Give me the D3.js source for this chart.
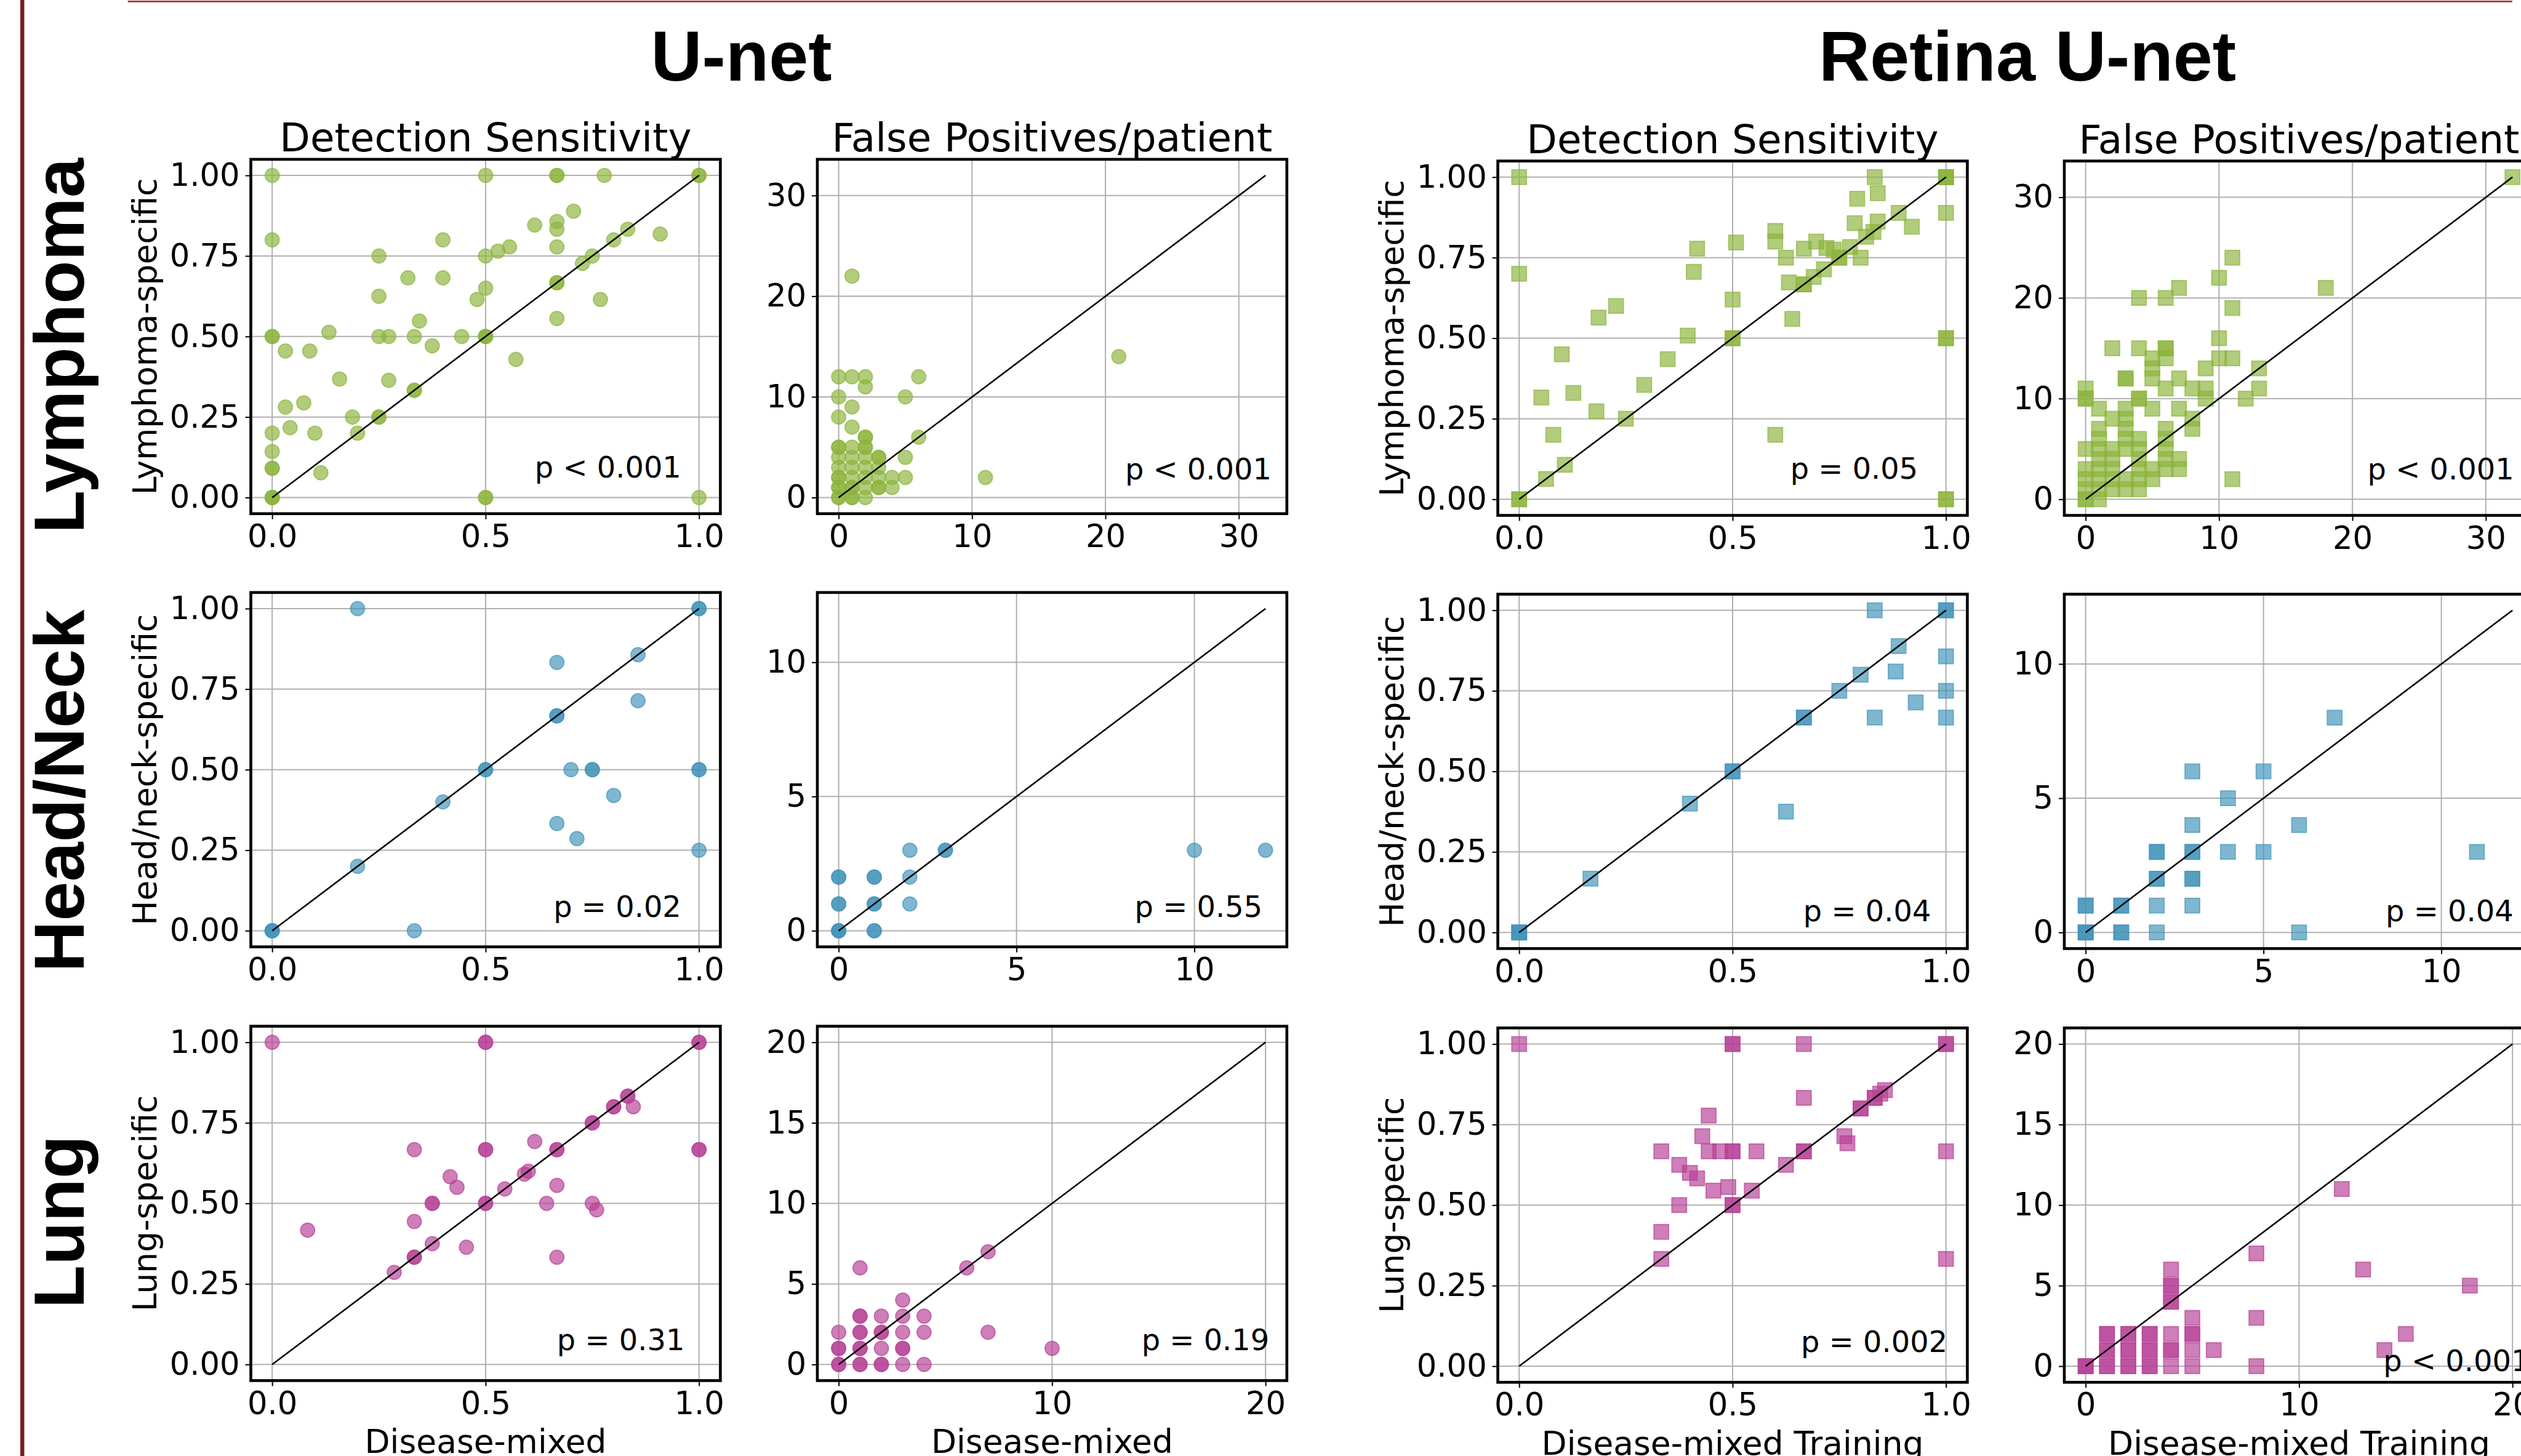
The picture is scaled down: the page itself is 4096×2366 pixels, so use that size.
<!DOCTYPE html>
<html>
<head>
<meta charset="utf-8">
<script src="https://cdn.jsdelivr.net/npm/d3@7"></script>
<style>
body { margin: 0; background: #fff; }
svg { display: block; }
</style>
</head>
<body>
<div class="container"></div>
<script>
const WIDTH = 4445;
const HEIGHT = 2568;
const PW = 828;   // panel frame width (reference px)
const PH = 625;   // panel frame height

const models = ["U-net", "Retina U-net"];
const diseases = ["Lymphoma", "Head/Neck", "Lung"];
const yLabels = ["Lymphoma-specific", "Head/neck-specific", "Lung-specific"];
const xLabels = ["Disease-mixed", "Disease-mixed Training"];
const metrics = ["Detection Sensitivity", "False Positives/patient"];
const colors = ["#8cb43c", "#4393b9", "#b74196"];

const sensTicksX = [0, 0.5, 1];
const sensTicksY = [0, 0.25, 0.5, 0.75, 1];
const fpMax = [32, 12, 20];
const fpTicksX = [[0, 10, 20, 30], [0, 5, 10], [0, 10, 20]];
const fpTicksY = [[0, 10, 20, 30], [0, 5, 10], [0, 5, 10, 15, 20]];

// p values: rows = disease, cols = U-net DS, U-net FP, Retina DS, Retina FP
const pValues = [
    ["p < 0.001", "p < 0.001", "p = 0.05", "p < 0.001"],
    ["p = 0.02", "p = 0.55", "p = 0.04", "p = 0.04"],
    ["p = 0.31", "p = 0.19", "p = 0.002", "p < 0.001"]
];

// [disease-mixed, disease-specific]
var unetLymphSens = [[0,1],[0.5,1],[0.667,1],[0.667,1],[0.778,1],[1,1],[1,1],
    [0,0.8],[0.706,0.889],[0.615,0.846],[0.667,0.857],[0.667,0.833],[0.4,0.8],[0.833,0.833],[0.909,0.818],
    [0.8,0.8],[0.556,0.778],[0.529,0.765],[0.667,0.778],[0.5,0.75],[0.25,0.75],[0.75,0.75],[0.727,0.727],
    [0.318,0.682],[0.4,0.682],[0.5,0.65],[0.25,0.625],[0.48,0.615],[0.769,0.615],[0.667,0.667],[0.667,0.667],
    [0.667,0.556],[0.345,0.548],[0,0.5],[0,0.5],[0.133,0.513],[0.25,0.5],[0.273,0.5],[0.333,0.5],[0.444,0.5],
    [0.5,0.5],[0.5,0.5],[0.5,0.5],[0.375,0.471],[0.031,0.455],[0.088,0.455],[0.571,0.429],[0.158,0.368],
    [0.273,0.364],[0.333,0.333],[0.333,0.333],[0.074,0.294],[0.031,0.281],[0.188,0.25],[0.25,0.25],[0.25,0.25],
    [0,0.2],[0.042,0.217],[0.1,0.2],[0.2,0.2],[0,0.143],[0,0.091],[0,0.091],[0.114,0.077],[0,0],[0,0],[0,0],
    [0.5,0],[0.5,0],[1,0]];
var unetLymphFP = [[1,22],[21,14],[0,12],[1,12],[2,12],[2,11],[6,12],[0,10],[5,10],[1,9],[0,8],[1,7],[2,6],[2,6],
    [6,6],[0,5],[0,5],[1,5],[2,5],[2,5],[0,4],[1,4],[2,4],[3,4],[3,4],[5,4],[0,3],[1,3],[2,3],[3,3],[0,2],[0,2],
    [1,2],[2,2],[3,2],[4,2],[5,2],[11,2],[0,1],[0,1],[1,1],[1,1],[2,1],[3,1],[3,1],[4,1],[0,0],[0,0],[1,0],[1,0],[2,0]];
var retinaLymphSens = [[0,1],[0.833,1],[1,1],[1,1],[1,1],[0.792,0.933],[0.84,0.95],[1,0.889],[0.889,0.889],
    [0.786,0.857],[0.84,0.862],[0.92,0.846],[0.6,0.833],[0.6,0.8],[0.813,0.815],[0.83,0.83],[0.508,0.797],
    [0.417,0.778],[0.667,0.778],[0.696,0.8],[0.72,0.78],[0.737,0.775],[0.775,0.783],[0.625,0.75],[0.75,0.75],
    [0.75,0.75],[0.8,0.75],[0.714,0.714],[0.69,0.69],[0.632,0.673],[0.667,0.667],[0.667,0.667],[0.409,0.706],
    [0,0.7],[0.5,0.62],[0.227,0.6],[0.186,0.564],[0.64,0.56],[0.395,0.508],[0.5,0.5],[0.5,0.5],[1,0.5],[1,0.5],
    [0.1,0.45],[0.348,0.435],[0.293,0.355],[0.052,0.316],[0.127,0.33],[0.181,0.273],[0.25,0.25],[0.08,0.2],
    [0.6,0.2],[0.107,0.107],[0.063,0.063],[0,0],[0,0],[1,0],[1,0]];
var retinaLymphFP = [[32,32],[11,24],[10,22],[7,21],[18,21],[4,20],[6,20],[11,19],[10,16],[2,15],[4,15],[6,15],
    [6,15],[5,14],[6,14],[10,14],[11,14],[5,13],[9,13],[13,13],[3,12],[3,12],[5,12],[7,12],[0,11],[6,11],[8,11],
    [9,11],[13,11],[0,10],[0,10],[4,10],[4,10],[9,10],[12,10],[1,9],[3,9],[5,9],[7,9],[2,8],[3,8],[8,8],[1,7],
    [3,7],[6,7],[8,7],[1,6],[3,6],[4,6],[6,6],[0,5],[1,5],[2,5],[3,5],[4,5],[6,5],[1,4],[2,4],[4,4],[6,4],[7,4],
    [0,3],[1,3],[2,3],[4,3],[5,3],[6,3],[7,3],[0,2],[1,2],[2,2],[3,2],[4,2],[5,2],[11,2],[0,1],[1,1],[2,1],
    [3,1],[4,1],[0,0],[1,0],[0,0]];

var unetHNSens = [[0,0],[0,0],[0,0],[0.2,1],[1,1],[1,1],[0.667,0.833],[0.857,0.857],[0.857,0.714],[0.667,0.667],
    [0.667,0.667],[0.5,0.5],[0.5,0.5],[0.7,0.5],[0.75,0.5],[0.75,0.5],[1,0.5],[1,0.5],[0.8,0.42],[0.4,0.4],
    [0.667,0.333],[0.714,0.286],[1,0.25],[0.2,0.2],[0.333,0]];
var unetHNFP = [[0,0],[0,0],[0,0],[1,0],[1,0],[0,1],[0,1],[1,1],[1,1],[2,1],[0,2],[0,2],[1,2],[1,2],[2,2],
    [2,3],[3,3],[3,3],[10,3],[12,3]];
var retinaHNSens = [[0,0],[0,0],[0,0],[0.167,0.167],[0.4,0.4],[0.5,0.5],[0.5,0.5],[0.625,0.375],[0.667,0.667],
    [0.667,0.667],[0.75,0.75],[0.8,0.8],[0.889,0.889],[0.882,0.81],[0.833,1],[1,1],[1,1],[1,0.857],[1,0.75],
    [0.929,0.714],[0.833,0.667],[1,0.667]];
var retinaHNFP = [[0,0],[0,0],[0,0],[1,0],[1,0],[2,0],[6,0],[0,1],[0,1],[1,1],[1,1],[2,1],[3,1],[2,2],[2,2],
    [3,2],[3,2],[2,3],[2,3],[3,3],[3,3],[4,3],[5,3],[11,3],[3,4],[6,4],[4,5],[3,6],[5,6],[7,8]];

var unetLungSens = [[0,1],[0.5,1],[0.5,1],[1,1],[1,1],[0.833,0.833],[0.833,0.833],[0.8,0.8],[0.8,0.8],[0.846,0.8],
    [0.75,0.75],[0.75,0.75],[0.615,0.692],[0.333,0.667],[0.5,0.667],[0.5,0.667],[0.667,0.667],[0.667,0.667],
    [1,0.667],[1,0.667],[0.417,0.583],[0.591,0.591],[0.6,0.6],[0.433,0.55],[0.545,0.545],[0.667,0.556],
    [0.375,0.5],[0.375,0.5],[0.5,0.5],[0.5,0.5],[0.643,0.5],[0.75,0.5],[0.76,0.48],[0.333,0.444],[0.083,0.417],
    [0.375,0.375],[0.455,0.364],[0.333,0.333],[0.333,0.333],[0.667,0.333],[0.286,0.286]];
var unetLungFP = [[0,0],[0,0],[1,0],[1,0],[2,0],[2,0],[3,0],[4,0],[0,1],[0,1],[1,1],[1,1],[2,1],[3,1],[3,1],
    [10,1],[0,2],[1,2],[1,2],[2,2],[2,2],[3,2],[4,2],[7,2],[1,3],[1,3],[2,3],[3,3],[4,3],[3,4],[1,6],[6,6],[7,7]];
var retinaLungSens = [[0,1],[0.5,1],[0.5,1],[0.667,1],[1,1],[1,1],[0.667,0.833],[0.857,0.857],[0.833,0.833],
    [0.833,0.833],[0.846,0.846],[0.8,0.8],[0.8,0.8],[0.444,0.778],[0.429,0.714],[0.762,0.714],[0.769,0.692],
    [0.333,0.667],[0.444,0.667],[0.471,0.667],[0.5,0.667],[0.5,0.667],[0.556,0.667],[0.667,0.667],[0.667,0.667],
    [1,0.667],[0.375,0.625],[0.625,0.625],[0.4,0.6],[0.417,0.583],[0.455,0.545],[0.49,0.556],[0.545,0.545],
    [0.5,0.5],[0.5,0.5],[0.375,0.5],[0.333,0.417],[0.333,0.333],[1,0.333]];
var retinaLungFP = [[0,0],[0,0],[0,0],[1,0],[1,0],[1,1],[1,1],[1,2],[1,2],[2,0],[2,0],[2,1],[2,1],[2,2],[2,2],
    [3,0],[3,0],[3,1],[3,1],[3,2],[3,2],[4,0],[4,1],[4,1],[4,2],[4,4],[4,4],[4,5],[4,5],[4,6],[5,0],[5,1],[5,2],
    [5,2],[5,3],[6,1],[8,0],[8,3],[8,7],[12,11],[13,6],[14,1],[15,2],[18,5]];

var sensData = [[unetLymphSens, retinaLymphSens], [unetHNSens, retinaHNSens], [unetLungSens, retinaLungSens]];
var fpData = [[unetLymphFP, retinaLymphFP], [unetHNFP, retinaHNFP], [unetLungFP, retinaLungFP]];

// layout (reference px)
var colLeft = [442, 1441, 2641, 3640];
var rowTop = [281, 1045, 1810];
var rowLabelY = [610, 1395, 2155];
var titleX = [1307, 3575];
// p text: [right inset, baseline above frame bottom]
var pPos = [
    [[69, 64], [27, 61], [87, 65], [35, 64]],
    [[69, 53], [43, 53], [64, 48], [36, 48]],
    [[63, 54], [31, 54], [35, 53], [7, 20]]
];

var translate = function(x, y) {
    return `translate(${x},${y})`;
};

var svg = d3.select('.container').append('svg')
    .attr('width', 4096)
    .attr('height', 2366)
    .attr('viewBox', `0 0 ${WIDTH} ${HEIGHT}`)
    .style('font-family', '"DejaVu Sans", sans-serif');

svg.append('rect').attr('width', WIDTH).attr('height', HEIGHT).attr('fill', '#fff');

// decorative border lines
svg.append('line').attr('x1', 39).attr('x2', 39).attr('y1', 0).attr('y2', HEIGHT)
    .attr('stroke', '#761c22').attr('stroke-width', 7);
svg.append('line').attr('x1', 225).attr('x2', 4430).attr('y1', 2.5).attr('y2', 2.5)
    .attr('stroke', '#a3343f').attr('stroke-width', 3);

var drawPanel = function(left, top, max, ticksX, ticksY, fmtX, fmtY, points, color, square, pText, pp) {
    var x = d3.scaleLinear().domain([-0.05 * max, 1.05 * max]).range([0, PW]);
    var y = d3.scaleLinear().domain([-0.05 * max, 1.05 * max]).range([PH, 0]);
    var g = svg.append('g').attr('transform', translate(left, top));

    g.append('g').selectAll('line').data(ticksX).enter().append('line')
        .attr('x1', d => x(d)).attr('x2', d => x(d)).attr('y1', 0).attr('y2', PH)
        .attr('stroke', '#b0b0b0').attr('stroke-width', 2.2);
    g.append('g').selectAll('line').data(ticksY).enter().append('line')
        .attr('y1', d => y(d)).attr('y2', d => y(d)).attr('x1', 0).attr('x2', PW)
        .attr('stroke', '#b0b0b0').attr('stroke-width', 2.2);

    var marks = g.append('g');
    if (square) {
        marks.selectAll('rect').data(points).enter().append('rect')
            .attr('x', d => x(d[0]) - 13).attr('y', d => y(d[1]) - 13)
            .attr('width', 26).attr('height', 26);
    } else {
        marks.selectAll('circle').data(points).enter().append('circle')
            .attr('cx', d => x(d[0])).attr('cy', d => y(d[1])).attr('r', 12.5);
    }
    marks.selectAll('*')
        .attr('fill', color).attr('fill-opacity', 0.68)
        .attr('stroke', color).attr('stroke-opacity', 0.68).attr('stroke-width', 2);

    var line = d3.line().x(d => x(d[0])).y(d => y(d[1]));
    g.append('path').attr('d', line([[0, 0], [max, max]]))
        .attr('stroke', '#000').attr('stroke-width', 2.8).attr('fill', 'none');

    var xAxis = d3.axisBottom(x).tickValues(ticksX).tickFormat(fmtX).tickSize(9.7).tickPadding(9.7);
    var yAxis = d3.axisLeft(y).tickValues(ticksY).tickFormat(fmtY).tickSize(9.7).tickPadding(9.7);
    [g.append('g').attr('transform', translate(0, PH)).call(xAxis),
     g.append('g').call(yAxis)].forEach(function(a) {
        a.select('.domain').remove();
        a.selectAll('line').attr('stroke', '#000').attr('stroke-width', 2.2);
        a.selectAll('text').attr('font-size', 55.6).attr('font-family', '"DejaVu Sans", sans-serif')
            .attr('fill', '#000');
    });

    g.append('rect').attr('width', PW).attr('height', PH)
        .attr('fill', 'none').attr('stroke', '#000').attr('stroke-width', 5);

    g.append('text').attr('x', PW - pp[0]).attr('y', PH - pp[1])
        .attr('text-anchor', 'end').attr('font-size', 52).text(pText);
    return g;
};

window.onload = function() {
    models.forEach(function(model, m) {
        svg.append('text').attr('x', titleX[m]).attr('y', 142)
            .attr('text-anchor', 'middle')
            .style('font-family', '"Liberation Sans", Arial, sans-serif')
            .attr('font-weight', 'bold').attr('font-size', 125).text(model);

        diseases.forEach(function(disease, r) {
            var top = rowTop[r] + (m ? 3 : 0);
            metrics.forEach(function(metric, k) {
                var c = m * 2 + k;
                var left = colLeft[c];
                var g;
                if (k === 0) {
                    g = drawPanel(left, top, 1, sensTicksX, sensTicksY, d3.format('.1f'), d3.format('.2f'),
                        sensData[r][m], colors[r], m === 1, pValues[r][c], pPos[r][c]);
                    g.append('text').attr('transform', translate(-167, PH / 2) + ' rotate(-90)')
                        .attr('text-anchor', 'middle').attr('font-size', 58).text(yLabels[r]);
                } else {
                    g = drawPanel(left, top, fpMax[r], fpTicksX[r], fpTicksY[r], d3.format('d'), d3.format('d'),
                        fpData[r][m], colors[r], m === 1, pValues[r][c], pPos[r][c]);
                }
                if (r === 0) {
                    g.append('text').attr('x', PW / 2).attr('y', -14)
                        .attr('text-anchor', 'middle').attr('font-size', 70).text(metric);
                }
                if (r === diseases.length - 1) {
                    g.append('text').attr('x', PW / 2).attr('y', PH + 128)
                        .attr('text-anchor', 'middle').attr('font-size', 58).text(xLabels[m]);
                }
            });
        });
    });

    diseases.forEach(function(disease, r) {
        svg.append('text').attr('transform', translate(147, rowLabelY[r]) + ' rotate(-90)')
            .attr('text-anchor', 'middle')
            .style('font-family', '"Liberation Sans", Arial, sans-serif')
            .attr('font-weight', 'bold').attr('font-size', 125).text(disease);
    });
};
</script>
</body>
</html>
